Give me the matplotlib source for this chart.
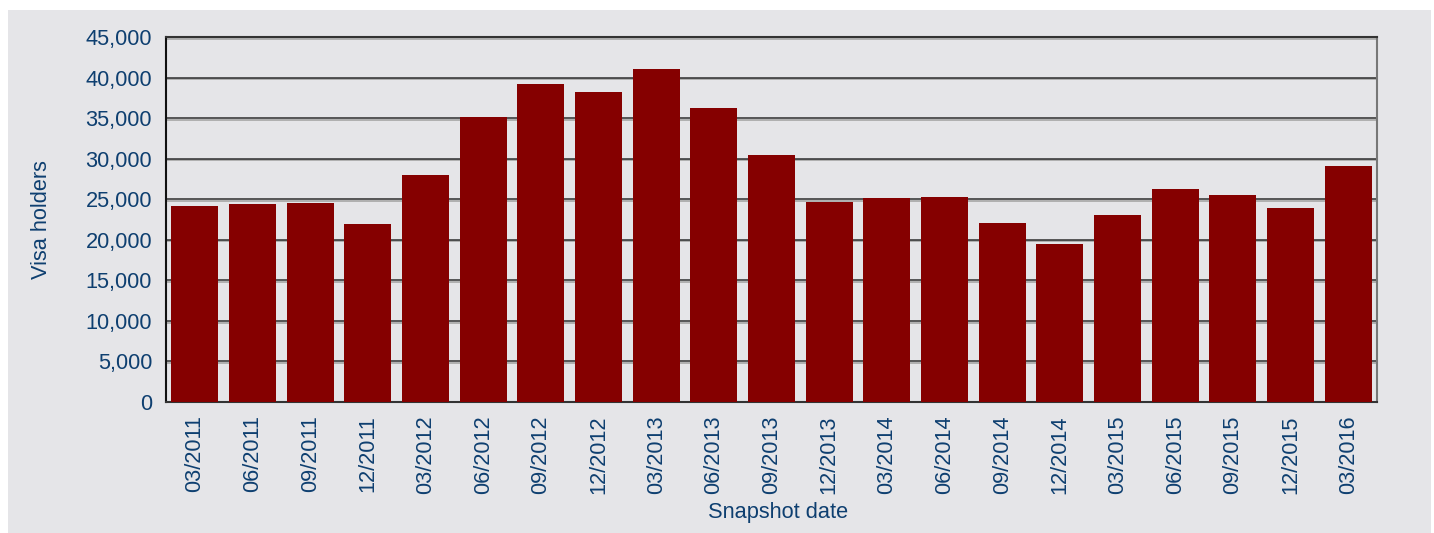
import matplotlib.pyplot as plt
import matplotlib.patheffects as pe
from matplotlib.patches import Rectangle
from matplotlib.ticker import FuncFormatter
import numpy as np

# Visa holders per quarterly snapshot
snapshot_dates = ['03/2011', '06/2011', '09/2011', '12/2011', '03/2012', '06/2012',
                  '09/2012', '12/2012', '03/2013', '06/2013', '09/2013', '12/2013',
                  '03/2014', '06/2014', '09/2014', '12/2014', '03/2015', '06/2015',
                  '09/2015', '12/2015', '03/2016']
visa_holders = [24150, 24400, 24500, 21900, 28000, 35100, 39200, 38200, 41050, 36250,
                30450, 24650, 25150, 25250, 22050, 19450, 23050, 26250, 25500, 23900, 29100]
y_ticks = [0, 5000, 10000, 15000, 20000, 25000, 30000, 35000, 40000, 45000]

text_color = '#0e3f70'
bar_color = '#850000'
panel_color = '#e5e5e8'

plt.rcParams['font.family'] = ['Liberation Sans', 'DejaVu Sans']

fig = plt.figure(figsize=(14.34, 5.33), dpi=100)
fig.patch.set_facecolor('white')
# grey panel behind the chart
fig.patches.append(Rectangle((8 / 1434, 0), 1423 / 1434, 523 / 533,
                             transform=fig.transFigure, facecolor=panel_color,
                             edgecolor='none', zorder=-10))

ax = fig.add_axes([166 / 1434, 131 / 533, 1211 / 1434, 365 / 533])
ax.set_facecolor(panel_color)

x = np.arange(len(snapshot_dates))
ax.bar(x, visa_holders, width=0.81, color=bar_color, zorder=3)

ax.set_xlim(-0.5, len(snapshot_dates) - 0.5)
ax.set_ylim(0, 45000)
ax.set_yticks(y_ticks)
ax.yaxis.set_major_formatter(FuncFormatter(lambda v, p: f'{int(v):,}'))
ax.set_xticks(x)
ax.set_xticklabels(snapshot_dates, rotation=90)

ax.tick_params(axis='both', length=0, labelsize=15.7, labelcolor=text_color)
ax.tick_params(axis='x', pad=9.5)
ax.tick_params(axis='y', pad=10)

ax.yaxis.grid(True, color='#2e2e2e', linewidth=1.1, zorder=1)
ax.set_axisbelow(True)
for gl in ax.yaxis.get_gridlines():
    gl.set_path_effects([pe.SimpleLineShadow(offset=(0, -1.2), shadow_color='#a0a0a0', alpha=1),
                         pe.Normal()])

for side, col in [('left', '#111111'), ('bottom', '#333333'), ('top', '#333333'), ('right', '#777777')]:
    ax.spines[side].set_color(col)
    ax.spines[side].set_linewidth(1.5)

ax.set_ylabel('Visa holders', fontsize=15.7, color=text_color, va='center')
ax.yaxis.set_label_coords(-0.1024, 0.5)
ax.set_xlabel('Snapshot date', fontsize=15.7, color=text_color, va='center')
ax.xaxis.set_label_coords(0.5056, -0.304)

fig.savefig('out.png', dpi=100, facecolor=fig.get_facecolor())
